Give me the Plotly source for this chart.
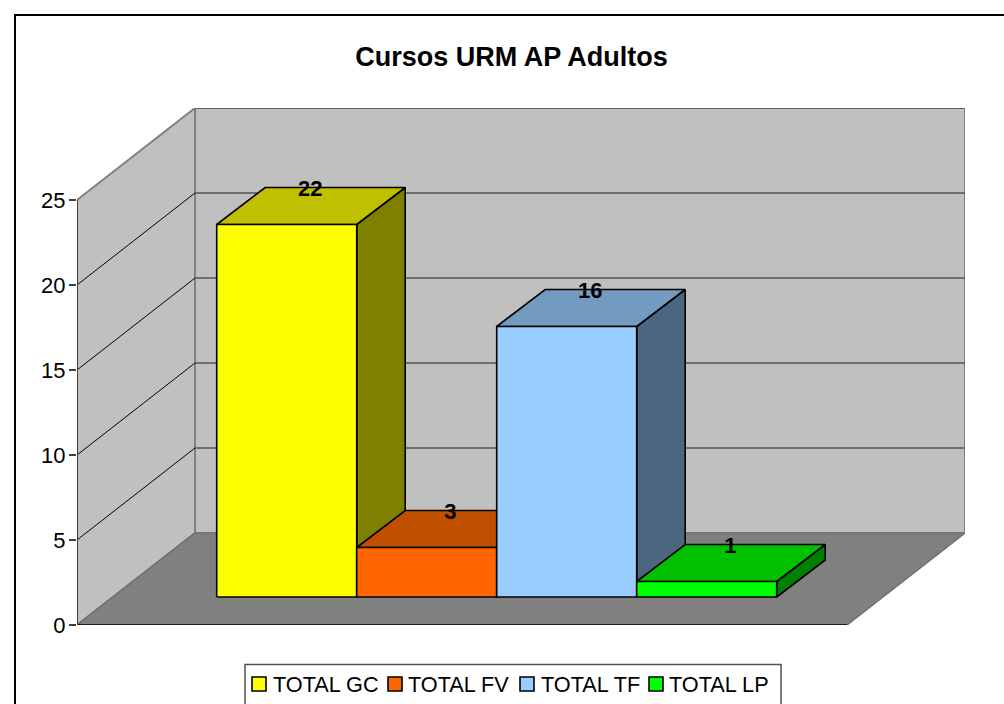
import plotly.graph_objects as go

# ---- data ----
categories = ["TOTAL GC", "TOTAL FV", "TOTAL TF", "TOTAL LP"]
values = [22, 3, 16, 1]
front_colors = ["#FFFF00", "#FF6600", "#99CCFF", "#00FF00"]
top_colors = ["#C0C000", "#C05000", "#739ABF", "#00C000"]
side_colors = ["#808000", "#804000", "#4D6680", "#008000"]
tick_values = [0, 5, 10, 15, 20, 25]
title_text = "Cursos URM AP Adultos"

# ---- oblique projection, in axis units (x: one slot per bar, y: value units) ----
W, H = 1004, 704
PX_X, PX_Y = 140.0, 17.0
DX, DY = 118 / PX_X, 92 / PX_Y          # depth of the floor
BDX, BDY = 48.5 / PX_X, 37 / PX_Y       # depth of a bar
BASE_Y = 28 / PX_Y                      # bar front edge above floor front
TOP_ADJ = 1.5 / PX_Y                    # bar tops sit slightly below the nominal value
LABEL_ADJ = 2.5 / PX_Y                  # data label sits below the back top edge
BAR_W = 1.0
START_X = 1.0 - 0.3 / PX_X
X_MAX = 888 / PX_X
Y_MAX = 517 / PX_Y
TOP_V = 25

fig = go.Figure()


def poly(xs, ys, fill, line="#000000", width=1.6):
    fig.add_trace(go.Scatter(
        x=xs + xs[:1], y=ys + ys[:1], mode="lines", fill="toself", fillcolor=fill,
        line=dict(color=line, width=width), showlegend=False, hoverinfo="skip", cliponaxis=False))


def seg(xs, ys, color, width):
    fig.add_trace(go.Scatter(
        x=xs, y=ys, mode="lines", line=dict(color=color, width=width),
        showlegend=False, hoverinfo="skip", cliponaxis=False))


# walls and floor
poly([0, DX, DX, 0], [0, DY, DY + TOP_V, TOP_V], "#C0C0C0", "#808080", 2)
poly([DX, X_MAX, X_MAX, DX], [DY, DY, DY + TOP_V, DY + TOP_V], "#C0C0C0", "#808080", 2)
poly([0, X_MAX - DX, X_MAX, DX], [0, 0, DY, DY], "#808080", "#707070", 1.5)
seg([0, X_MAX - DX], [0, 0], "#000000", 1.5)

# gridlines
for t in tick_values[1:]:
    if t < 25:
        seg([0, DX], [t, t + DY], "#000000", 1)
    seg([DX, X_MAX], [t + DY, t + DY], "#555555", 1.5)
seg([0, 0], [0, TOP_V], "#404040", 2)

# bars
for i, v in enumerate(values):
    x0 = START_X + i * BAR_W
    x1 = x0 + BAR_W
    y0 = BASE_Y
    y1 = BASE_Y + v - TOP_ADJ
    poly([x1, x1 + BDX, x1 + BDX, x1], [y0, y0 + BDY, y1 + BDY, y1], side_colors[i])
    poly([x0, x1, x1 + BDX, x0 + BDX], [y1, y1, y1 + BDY, y1 + BDY], top_colors[i])
    poly([x0, x1, x1, x0], [y0, y0, y1, y1], front_colors[i])

# data labels
for i, v in enumerate(values):
    fig.add_trace(go.Scatter(
        x=[START_X + i * BAR_W + BAR_W / 2 + BDX / 2 - 0.7 / PX_X], y=[BASE_Y + v + BDY - TOP_ADJ - LABEL_ADJ],
        mode="text", text=[str(v)], textposition="middle center",
        textfont=dict(family="Liberation Sans", size=22, color="#000000", weight="bold"),
        showlegend=False, hoverinfo="skip", cliponaxis=False))

# legend, laid out in page pixels
LEG_SWATCH_X = [252, 388, 520, 649]
LEG_TEXT_X = [271.5, 407, 539.5, 667.5]
px = lambda p: p / W
py = lambda p: (H - p) / H
shapes = [
    dict(type="rect", xref="paper", yref="paper", x0=px(15), x1=1.02, y0=-0.02, y1=py(15),
         line=dict(color="#000000", width=2), fillcolor="rgba(0,0,0,0)", layer="below"),
    dict(type="rect", xref="paper", yref="paper", x0=px(245), x1=px(781), y0=-0.02, y1=py(664.5),
         line=dict(color="#505050", width=1.5), fillcolor="white", layer="below"),
]
annotations = []
for sx, tx, name, c in zip(LEG_SWATCH_X, LEG_TEXT_X, categories, front_colors):
    shapes.append(dict(type="rect", xref="paper", yref="paper", x0=px(sx), x1=px(sx + 14),
                       y0=py(691), y1=py(677), line=dict(color="#000000", width=1.6), fillcolor=c))
    annotations.append(dict(xref="paper", yref="paper", x=px(tx), y=py(684), text=name, showarrow=False,
                            xanchor="left", yanchor="middle", borderpad=0,
                            font=dict(size=21.7, family="Liberation Sans", color="#000000")))

fig.update_layout(
    width=W, height=H, autosize=False, showlegend=False,
    margin=dict(l=0, r=0, t=0, b=0, autoexpand=False),
    paper_bgcolor="white", plot_bgcolor="rgba(0,0,0,0)",
    font=dict(family="Liberation Sans", size=22, color="#000000"),
    title=dict(text="<b>%s</b>" % title_text, x=511.5 / W, xanchor="center", y=1 - 57 / H, yanchor="middle",
               font=dict(size=27, family="Liberation Sans", color="#000000")),
    xaxis=dict(domain=[77 / W, 965 / W], range=[0, X_MAX], visible=False, fixedrange=True),
    yaxis=dict(domain=[(H - 625) / H, (H - 108) / H], range=[0, Y_MAX], tickmode="array",
               tickvals=tick_values, ticks="outside", ticklen=7, tickcolor="#404040", tickwidth=1.5,
               ticklabelstandoff=-1,
               showgrid=False, zeroline=False, showline=False, fixedrange=True,
               tickfont=dict(size=22, family="Liberation Sans", color="#000000")),
    shapes=shapes, annotations=annotations,
)

fig.write_html("out.html", config={"displayModeBar": False},
               post_script="document.body.style.margin='0';")
